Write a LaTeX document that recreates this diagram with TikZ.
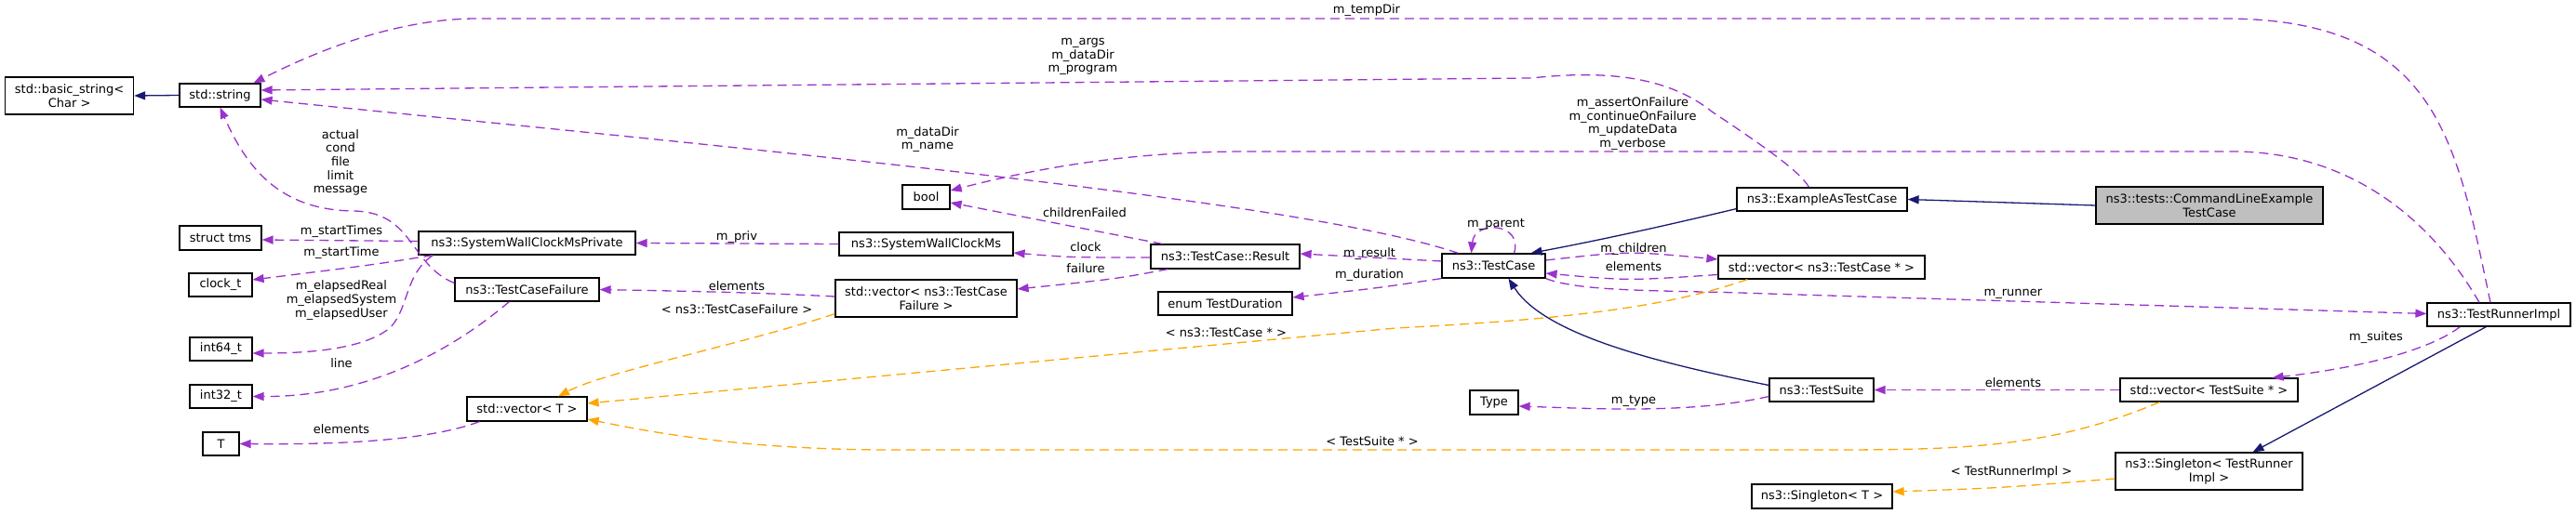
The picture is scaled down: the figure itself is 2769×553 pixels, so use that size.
\documentclass[tikz,border=0pt]{standalone}
\usepackage{fontspec}
\setmainfont{DejaVu Sans}
\usetikzlibrary{arrows.meta,calc}
\definecolor{nav}{HTML}{191970}
\definecolor{pur}{HTML}{9A32CD}
\definecolor{org}{HTML}{FFA500}
\begin{document}
\begin{tikzpicture}[x=1pt,y=-1pt,
  box/.style={draw=black,line width=1.2pt,inner sep=0pt,align=center,font=\fontsize{13}{15}\selectfont},
  lbl/.style={inner sep=0pt,align=center,font=\fontsize{13}{14.6}\selectfont},
  tip/.style={-{Triangle[length=12pt,width=9pt]}},
  inh/.style={tip,draw=nav,line width=1.3pt},
  use/.style={tip,draw=pur,line width=1.3pt,dash pattern=on 10pt off 6pt},
  tpl/.style={tip,draw=org,line width=1.3pt,dash pattern=on 10pt off 6pt}]
\useasboundingbox (0,0) rectangle (2769,553);
% nodes
\node[box,minimum width=138,minimum height=40] (bs) at (74.6,103) {std::basic\_string<\\Char >};
\node[box,minimum width=87,minimum height=25] (str) at (236.5,102.5) {std::string};
\node[box,minimum width=88,minimum height=26] (tms) at (237,256) {struct tms};
\node[box,minimum width=68,minimum height=25] (clk) at (237,306.5) {clock\_t};
\node[box,minimum width=67,minimum height=25] (i64) at (237.5,375.5) {int64\_t};
\node[box,minimum width=67,minimum height=25] (i32) at (237.5,426.5) {int32\_t};
\node[box,minimum width=39,minimum height=25] (T) at (237.5,477.5) {T};
\node[box,minimum width=233,minimum height=25] (swp) at (566.5,261.5) {ns3::SystemWallClockMsPrivate};
\node[box,minimum width=155,minimum height=25] (tcf) at (566.5,311.5) {ns3::TestCaseFailure};
\node[box,minimum width=129,minimum height=26] (vT) at (566.5,440) {std::vector< T >};
\node[box,minimum width=51,minimum height=26] (bool) at (995.5,212) {bool};
\node[box,minimum width=187,minimum height=25] (swc) at (995.5,262.5) {ns3::SystemWallClockMs};
\node[box,minimum width=195,minimum height=40] (vtcf) at (995.5,321) {std::vector< ns3::TestCase\\Failure >};
\node[box,minimum width=160,minimum height=26] (res) at (1317,276) {ns3::TestCase::Result};
\node[box,minimum width=144,minimum height=25] (dur) at (1317,326.5) {enum TestDuration};
\node[box,minimum width=111,minimum height=26] (tc) at (1605.5,286) {ns3::TestCase};
\node[box,minimum width=183,minimum height=25] (eat) at (1958.5,214.5) {ns3::ExampleAsTestCase};
\node[box,minimum width=244,minimum height=40,fill={rgb,255:red,191;green,191;blue,191}] (cle) at (2375,221) {ns3::tests::CommandLineExample\\TestCase};
\node[box,minimum width=222,minimum height=25] (vtc) at (1958,287.5) {std::vector< ns3::TestCase * >};
\node[box,minimum width=154,minimum height=25] (tri) at (2686,338.5) {ns3::TestRunnerImpl};
\node[box,minimum width=112,minimum height=25] (ts) at (1958,419.5) {ns3::TestSuite};
\node[box,minimum width=52,minimum height=26] (type) at (1606,433) {Type};
\node[box,minimum width=191,minimum height=25] (vts) at (2374.5,419.5) {std::vector< TestSuite * >};
\node[box,minimum width=201,minimum height=40] (sgr) at (2374.5,507) {ns3::Singleton< TestRunner\\Impl >};
\node[box,minimum width=151,minimum height=26] (sgT) at (1958.5,534) {ns3::Singleton< T >};
% inheritance
\draw[inh] (str.west) -- (bs.east);
\draw[inh] (cle.west) -- (eat.east);
\draw[inh] ($(eat.south west)+(0,-3)$) .. controls (1760,250) and (1700,262) .. ($(tc.north)+(40,0)$);
\draw[inh] ($(ts.west)+(0,-5)$) .. controls (1780,390) and (1660,360) .. ($(tc.south)+(16,0)$);
\draw[inh] ($(tri.south west)+(64,0)$) -- ($(sgr.north)+(47,0)$);
% usage
\draw[use] ($(tri.north)+(-9,0)$) .. controls (2640,150) and (2620,20) .. (2390,20) -- (513,20) .. controls (420,20) and (330,60) .. ($(str.north)+(36,0)$);
\draw[use] ($(eat.north)+(-14,0)$) .. controls (1935,185) and (1900,160) .. (1840,120) .. controls (1790,80) and (1720,76) .. (1646,84) -- ($(str.east)+(0,-5.5)$);
\draw[use] ($(tc.north west)+(18,0)$) .. controls (1400,215) and (800,160) .. ($(str.east)+(0,4.5)$);
\draw[use] ($(tcf.west)+(0,-7)$) .. controls (440,285) and (445,228) .. (380,227) .. controls (300,226) and (265,180) .. (str.south);
\draw[use] ($(tri.north)+(-21,0)$) .. controls (2610,230) and (2520,163) .. (2400,163) -- (1340,163) .. controls (1200,163) and (1100,185) .. ($(bool.east)+(0,-7)$);
\draw[use] ($(res.north west)+(13,0)$) -- ($(bool.east)+(0,6)$);
\draw[use] ($(swp.west)+(0,-2)$) -- ($(tms.east)+(0,2)$);
\draw[use] ($(swp.south west)+(16,0)$) .. controls (400,285) .. ($(clk.east)+(0,-5.5)$);
\draw[use] ($(swp.south west)+(16,0)$) .. controls (435,295) and (440,330) .. (420,352) .. controls (390,378) and (320,380) .. ($(i64.east)+(0,4.5)$);
\draw[use] ($(tcf.south west)+(59,0)$) .. controls (470,390) and (380,427) .. (i32.east);
\draw[use] ($(vT.south west)+(14,0)$) .. controls (450,478) and (330,478) .. (T.east);
\draw[use] (swc.west) -- (swp.east);
\draw[use] ($(res.west)+(0,1)$) .. controls (1150,277) .. ($(swc.east)+(0,9.5)$);
\draw[use] ($(res.south west)+(19,0)$) .. controls (1200,300) .. ($(vtcf.east)+(0,-10)$);
\draw[use] ($(vtcf.west)+(0,-2)$) .. controls (800,314) and (720,313) .. (tcf.east);
\draw[use] ($(tc.west)+(0,-5)$) -- ($(res.east)+(0,-3)$);
\draw[use] ($(tc.south west)+(0,0)$) .. controls (1480,310) .. ($(dur.east)+(0,-6.5)$);
\draw[use] ($(tc.north)+(22,0)$) .. controls (1638,240) and (1585,236) .. ($(tc.north)+(-24,0)$);
\draw[use] ($(tc.east)+(0,-6)$) .. controls (1750,270) .. ($(vtc.west)+(0,-8.5)$);
\draw[use] ($(vtc.west)+(0,8)$) .. controls (1750,302) .. ($(tc.east)+(0,8)$);
\draw[use] ($(tc.south east)+(0,0)$) .. controls (1700,315) and (1800,312) .. (1900,316) -- ($(tri.west)+(0,-1)$);
\draw[use] ($(tri.south west)+(36,0)$) .. controls (2600,385) and (2500,400) .. ($(vts.north)+(68,0)$);
\draw[use] (vts.west) -- (ts.east);
\draw[use] ($(ts.west)+(0,7)$) .. controls (1820,445) and (1720,440) .. ($(type.east)+(0,4)$);
% templates
\draw[tpl] ($(vtcf.south west)+(0,-4)$) .. controls (800,370) and (650,400) .. ($(vT.north)+(33.5,0)$);
\draw[tpl] ($(vtc.south west)+(32,0)$) .. controls (1780,335) and (1650,345) .. (1500,353) -- ($(vT.east)+(0,-6)$);
\draw[tpl] ($(vts.south west)+(43,0)$) .. controls (2200,484) and (2100,484) .. (1950,484) -- (960,484) .. controls (800,484) and (700,465) .. ($(vT.east)+(0,11)$);
\draw[tpl] ($(sgr.west)+(0,8)$) .. controls (2150,525) .. ($(sgT.east)+(0,-5)$);
% labels
\node[lbl] (l1) at (1469,11) {m\_tempDir};
\node[lbl] (l2) at (1164,61) {m\_args\\m\_dataDir\\m\_program};
\node[lbl] (l3) at (997,150) {m\_dataDir\\m\_name};
\node[lbl] (l4) at (366,175) {actual\\cond\\file\\limit\\message};
\node[lbl] (l5) at (367,249) {m\_startTimes};
\node[lbl] (l6) at (367,272) {m\_startTime};
\node[lbl] (l7) at (367,323) {m\_elapsedReal\\m\_elapsedSystem\\m\_elapsedUser};
\node[lbl] (l8) at (367,391) {line};
\node[lbl] (l9) at (367,462) {elements};
\node[lbl] (l10) at (1166,229) {childrenFailed};
\node[lbl] (l11) at (792,255) {m\_priv};
\node[lbl] (l12) at (1167,266) {clock};
\node[lbl] (l13) at (1167,289) {failure};
\node[lbl] (l14) at (792,308) {elements};
\node[lbl] (l15) at (792,333) {< ns3::TestCaseFailure >};
\node[lbl] (l16) at (1318,358) {< ns3::TestCase * >};
\node[lbl] (l17) at (1475,475) {< TestSuite * >};
\node[lbl] (l18) at (1472,273) {m\_result};
\node[lbl] (l19) at (1472,296) {m\_duration};
\node[lbl] (l20) at (1755,133) {m\_assertOnFailure\\m\_continueOnFailure\\m\_updateData\\m\_verbose};
\node[lbl] (l21) at (1608,241) {m\_parent};
\node[lbl] (l22) at (1756,268) {m\_children};
\node[lbl] (l23) at (1756,287) {elements};
\node[lbl] (l24) at (2164,316) {m\_runner};
\node[lbl] (l25) at (2554,363) {m\_suites};
\node[lbl] (l26) at (2164,412) {elements};
\node[lbl] (l27) at (1756,431) {m\_type};
\node[lbl] (l28) at (2162,508) {< TestRunnerImpl >};
\end{tikzpicture}
\end{document}
